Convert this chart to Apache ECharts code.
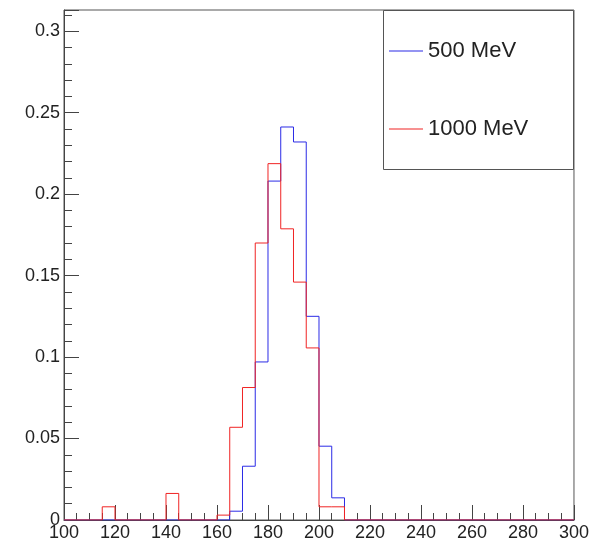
<!DOCTYPE html>
<html>
<head>
<meta charset="utf-8">
<script src="https://cdn.jsdelivr.net/npm/echarts@6/dist/echarts.min.js"></script>
<style>html,body{margin:0;padding:0;background:#fff;}#c{width:592px;height:544px;}</style>
</head>
<body>
<div id="c"></div>
<script>
// Bin lower edges (5 MeV bins from 100 to 300)
var binStarts = [100,105,110,115,120,125,130,135,140,145,150,155,160,165,170,175,180,185,190,195,
                 200,205,210,215,220,225,230,235,240,245,250,255,260,265,270,275,280,285,290,295];
var binUpper = 300;
var seriesNames = ['500 MeV', '1000 MeV'];
var values500 = [0,0,0,0,0,0,0,0,0,0,0,0,0,0.0054,0.033,0.097,0.208,0.2412,0.232,0.125,
                 0.0453,0.0136,0,0,0,0,0,0,0,0,0,0,0,0,0,0,0,0,0,0];
var values1000 = [0,0,0,0.0081,0,0,0,0,0.0163,0,0,0,0.003,0.0569,0.0813,0.170,0.2187,0.1787,0.146,0.1056,
                  0.0081,0.0081,0,0,0,0,0,0,0,0,0,0,0,0,0,0,0,0,0,0];
var xTicks = [100,120,140,160,180,200,220,240,260,280,300];
var yTickLabels = [0,0.05,0.1,0.15,0.2,0.25,0.3];

function stepPoints(vals){
  var pts = [];
  for (var i=0;i<binStarts.length;i++) pts.push([binStarts[i], vals[i]]);
  pts.push([binUpper, vals[vals.length-1]]);
  return pts;
}

var FONT = 'Liberation Sans, Arial, Helvetica, sans-serif';
var chart = echarts.init(document.getElementById('c'), null, {renderer:'canvas'});
chart.setOption({
  animation: false,
  backgroundColor: '#fff',
  grid: {left: 64, top: 10, right: 18, bottom: 24, show: true, borderColor: '#555', borderWidth: 1, backgroundColor: 'transparent'},
  xAxis: {
    type: 'value', min: xTicks[0], max: xTicks[xTicks.length-1], interval: 20,
    axisLine: {show: true, lineStyle: {color: '#444', width: 1}},
    axisTick: {show: true, inside: true, length: 15, lineStyle: {color: '#444'}},
    minorTick: {show: true, splitNumber: 4, length: 7, lineStyle: {color: '#444'}},
    axisLabel: {show: true, margin: 4, fontSize: 18, color: '#222', fontFamily: FONT},
    splitLine: {show: false}
  },
  yAxis: [{
    type: 'value', min: 0, max: 0.313, interval: 0.01, position: 'left',
    axisLine: {show: true, lineStyle: {color: '#444', width: 1}},
    axisTick: {show: true, inside: true, length: 8, lineStyle: {color: '#444'}},
    axisLabel: {show: true, margin: 4, fontSize: 18, color: '#222', fontFamily: FONT, showMaxLabel: false,
      formatter: function(v){
        for (var i=0;i<yTickLabels.length;i++){ if (Math.abs(v - yTickLabels[i]) < 1e-6) return String(yTickLabels[i]); }
        return '';
      }},
    splitLine: {show: false}
  },{
    type: 'value', min: 0, max: 0.313, interval: 0.05, position: 'left',
    axisLine: {show: false},
    axisTick: {show: true, inside: true, length: 15, lineStyle: {color: '#444'}},
    axisLabel: {show: false},
    splitLine: {show: false}
  }],
  legend: {
    data: seriesNames,
    orient: 'vertical', left: 389, top: 40, padding: 0,
    icon: 'rect',
    itemWidth: 34, itemHeight: 1, itemGap: 56,
    textStyle: {fontSize: 22, lineHeight: 22, color: '#222', fontFamily: FONT}
  },
  graphic: [{
    type: 'rect', z: 3,
    shape: {x: 383.5, y: 10.5, width: 190, height: 159},
    style: {fill: '#fff', stroke: '#555', lineWidth: 1}
  }],
  series: [{
    name: seriesNames[0], type: 'line', step: 'end', symbol: 'none', yAxisIndex: 0,
    lineStyle: {color: '#2b2be6', width: 1}, itemStyle: {color: '#2b2be6'},
    data: stepPoints(values500)
  },{
    name: seriesNames[1], type: 'line', step: 'end', symbol: 'none', yAxisIndex: 0,
    lineStyle: {color: '#f02424', width: 1}, itemStyle: {color: '#f02424'},
    data: stepPoints(values1000)
  }]
});
</script>
</body>
</html>
